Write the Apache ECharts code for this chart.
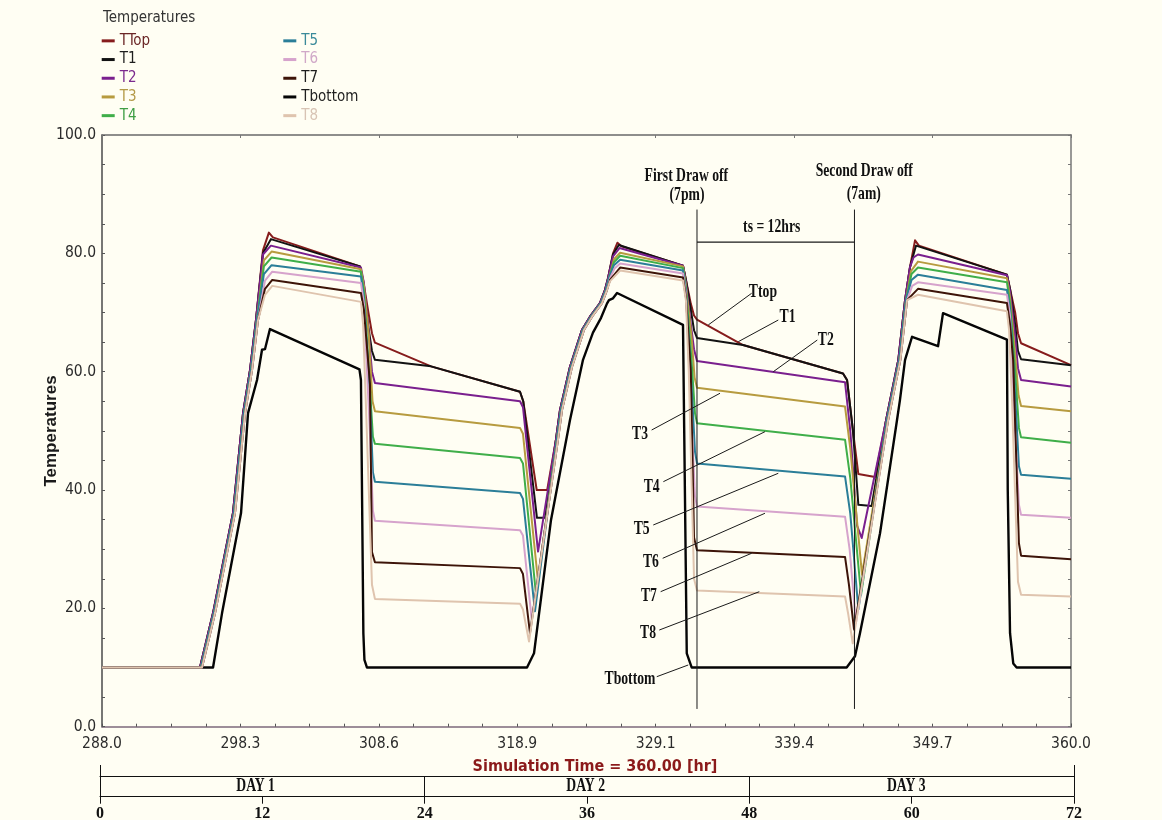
<!DOCTYPE html>
<html>
<head>
<meta charset="utf-8">
<title>Temperatures</title>
<script src="https://cdn.jsdelivr.net/npm/echarts@6.0.0/dist/echarts.min.js"></script>
<style>
  html, body { margin: 0; padding: 0; background: #fffef3; }
  #chart { width: 1162px; height: 820px; }
</style>
</head>
<body>
<div id="chart"></div>
<script>
// ---- time scale (hours) ----
const timeMin = 288;
const timeMax = 360;
const timeStep = 72 / 7;
const tempMin = 0;
const tempMax = 100;
const tempStep = 20;

// ---- day scale ----
const dayMin = 0;
const dayMax = 72;
const dayStep = 12;
const dayLabels = ['DAY 1', 'DAY 2', 'DAY 3'];
const dayLabelHours = [11.5, 35.9, 59.6];

// ---- tank node temperatures [hour, degC] ----
const tTop = [
  [288,10],[295.28,10],[296.25,19.2],[297.73,36.1],[298.48,53.0],[299.00,60.3],[299.44,68.7],[299.96,80.5],[300.40,83.5],[300.70,82.7],[307.17,77.8],
  [307.40,75.5],[307.76,70.5],[308.06,66.5],[308.28,64.9],[312.45,60.9],[319.06,56.6],
  [319.30,55.0],[320.30,40.0],[321.08,40.0],
  [321.73,48.5],[322.03,53.5],[322.77,60.8],[323.67,67.1],[324.26,69.3],[325.00,71.6],[325.37,73.8],[325.60,75.8],[325.97,80.0],[326.30,81.8],[326.60,81.2],[331.17,77.9],
  [331.39,75.5],[331.75,71.5],[331.99,69.5],[332.21,68.8],[335.63,64.5],[343.06,59.7],
  [343.36,58.6],[343.80,50.0],[344.20,42.7],[345.44,42.2],
  [346.26,51.8],[347.17,62.0],[347.67,72.1],[348.04,77.7],[348.41,82.2],[348.70,81.3],[355.24,76.4],
  [355.47,74.0],[355.85,70.0],[356.06,66.5],[356.29,64.8],[360,61.1]
];
const t1 = [
  [288,10],[295.28,10],[296.25,19.2],[297.73,36.1],[298.48,53.0],[299.00,60.3],[299.44,68.7],[299.96,80.0],[300.55,82.4],[307.17,77.8],
  [307.40,75.0],[307.76,68.0],[308.06,63.5],[308.28,62.0],[312.45,60.9],[319.06,56.6],
  [319.30,55.0],[320.32,35.3],[320.92,35.3],
  [321.73,48.5],[322.03,53.5],[322.77,60.8],[323.67,67.1],[324.26,69.3],[325.00,71.6],[325.37,73.8],[325.60,75.8],[325.97,79.8],[326.40,81.4],[331.17,77.9],
  [331.39,75.5],[331.75,70.5],[331.99,67.0],[332.21,65.7],[335.63,64.5],[343.06,59.7],
  [343.36,58.6],[343.80,50.0],[344.20,37.5],[345.19,37.3],
  [346.26,51.8],[347.17,62.0],[347.67,72.1],[348.04,77.7],[348.48,81.3],[355.24,76.4],
  [355.47,74.0],[355.85,68.0],[356.06,63.5],[356.29,62.1],[360,61.1]
];
const t2 = [
  [288,10],[295.28,10],[296.25,19.2],[297.73,36.1],[298.48,53.0],[299.00,60.3],[299.44,68.7],[299.96,79.8],[300.55,81.3],[307.24,77.6],
  [307.46,75.0],[307.76,68.0],[308.06,60.0],[308.28,58.1],[319.06,55.0],
  [319.28,54.0],[320.40,29.6],
  [321.73,48.5],[322.03,53.5],[322.77,60.8],[323.67,67.1],[324.26,69.3],[325.00,71.6],[325.37,73.8],[325.60,75.8],[325.97,79.5],[326.45,80.9],[331.17,77.9],
  [331.39,75.0],[331.75,68.0],[331.99,63.8],[332.21,61.8],[343.21,58.2],
  [343.60,50.0],[344.10,34.0],[344.45,31.9],
  [346.26,51.8],[347.17,62.0],[347.67,72.1],[348.04,77.7],[348.30,79.3],[348.63,79.8],[355.24,76.3],
  [355.47,73.5],[355.85,66.0],[356.06,60.6],[356.29,58.6],[360,57.5]
];
const t3 = [
  [288,10],[295.35,10],[296.32,19.2],[297.80,36.1],[298.55,53.0],[299.07,60.3],[299.51,68.7],[300.03,78.8],[300.60,80.3],[307.24,77.3],
  [307.46,74.5],[307.83,66.0],[308.10,55.0],[308.28,53.3],[319.06,50.5],
  [319.28,49.5],[320.40,24.5],
  [321.80,48.5],[322.10,53.5],[322.84,60.8],[323.74,67.1],[324.33,69.3],[325.07,71.6],[325.44,73.8],[325.67,75.8],[326.04,79.0],[326.50,80.1],[331.17,77.8],
  [331.39,74.5],[331.80,66.0],[332.03,59.0],[332.21,57.3],[343.21,54.1],
  [343.60,47.0],[344.47,25.7],
  [346.33,51.8],[347.24,62.0],[347.74,72.1],[348.11,77.0],[348.63,78.6],[355.24,75.8],
  [355.47,72.5],[355.85,63.0],[356.10,56.0],[356.29,54.2],[360,53.3]
];
const t4 = [
  [288,10],[295.35,10],[296.32,19.2],[297.80,36.1],[298.55,53.0],[299.07,60.3],[299.51,68.7],[300.03,77.8],[300.60,79.3],[307.24,76.9],
  [307.46,73.5],[307.83,60.0],[308.13,49.0],[308.28,47.8],[319.06,45.4],
  [319.28,44.5],[320.25,22.3],
  [321.80,48.5],[322.10,53.5],[322.84,60.8],[323.74,67.1],[324.33,69.3],[325.07,71.6],[325.44,73.8],[325.67,75.8],[326.04,78.5],[326.50,79.6],[331.17,77.5],
  [331.39,74.0],[331.80,62.0],[332.06,53.0],[332.21,51.3],[343.21,48.5],
  [343.60,42.0],[344.40,22.3],
  [346.33,51.8],[347.24,62.0],[347.74,72.1],[348.15,76.5],[348.63,77.6],[355.24,75.1],
  [355.47,71.5],[355.85,60.0],[356.13,50.5],[356.29,48.9],[360,48.0]
];
const t5 = [
  [288,10],[295.35,10],[296.32,19.2],[297.80,36.1],[298.55,53.0],[299.07,60.3],[299.51,68.7],[300.03,76.5],[300.60,78.0],[307.24,76.1],
  [307.46,72.5],[307.90,56.0],[308.13,43.0],[308.28,41.4],[319.06,39.5],
  [319.28,38.5],[320.17,19.5],
  [321.80,48.5],[322.10,53.5],[322.84,60.8],[323.74,67.1],[324.33,69.3],[325.07,71.6],[325.44,73.8],[325.67,75.8],[326.04,78.0],[326.50,78.9],[331.17,77.1],
  [331.39,73.5],[331.80,58.0],[332.06,46.5],[332.21,44.5],[343.21,42.3],
  [343.60,36.0],[344.20,19.8],
  [346.33,51.8],[347.24,62.0],[347.74,72.1],[348.15,75.5],[348.63,76.4],[355.24,73.8],
  [355.47,70.5],[355.85,56.0],[356.13,44.0],[356.29,42.6],[360,41.9]
];
const t6 = [
  [288,10],[295.43,10],[296.40,19.2],[297.88,36.1],[298.63,53.0],[299.15,60.3],[299.59,68.7],[300.11,75.4],[300.65,76.9],[307.24,75.0],
  [307.46,71.5],[307.90,50.0],[308.13,36.5],[308.28,34.8],[319.06,33.2],
  [319.28,32.3],[319.93,18.1],
  [321.88,48.5],[322.18,53.5],[322.92,60.8],[323.82,67.1],[324.41,69.3],[325.15,71.6],[325.52,73.8],[325.75,75.8],[326.10,77.5],[326.50,78.3],[331.17,76.6],
  [331.39,73.0],[331.80,52.0],[332.06,39.0],[332.21,37.2],[343.21,35.5],
  [343.55,30.0],[344.02,17.5],
  [346.41,51.8],[347.32,62.0],[347.82,72.1],[348.20,74.5],[348.63,75.1],[355.24,73.0],
  [355.47,69.5],[355.85,50.0],[356.13,37.5],[356.29,35.8],[360,35.3]
];
const t7 = [
  [288,10],[295.43,10],[296.40,19.2],[297.88,36.1],[298.63,53.0],[299.15,60.3],[299.59,68.7],[300.11,74.0],[300.65,75.5],[307.24,73.3],
  [307.46,70.5],[307.91,58.0],[308.06,29.5],[308.28,27.8],[319.06,26.8],
  [319.28,25.8],[319.80,15.8],
  [321.88,48.5],[322.18,53.5],[322.92,60.8],[323.82,67.1],[324.41,69.3],[325.15,71.6],[325.52,73.8],[325.75,75.5],[326.50,77.6],[331.17,75.9],
  [331.39,72.5],[331.75,60.0],[331.99,32.0],[332.21,29.8],[343.21,28.7],
  [343.50,24.0],[343.88,16.4],
  [346.41,51.8],[347.32,62.0],[347.82,72.1],[348.63,74.0],[355.24,71.6],
  [355.47,68.0],[355.70,62.0],[356.13,31.0],[356.29,28.9],[360,28.3]
];
const t8 = [
  [288,10],[295.43,10],[296.40,19.2],[297.88,36.1],[298.63,53.0],[299.15,60.3],[299.59,68.7],[300.11,73.0],[300.65,74.5],[307.24,71.8],
  [307.40,68.0],[307.60,55.0],[308.06,24.0],[308.28,21.6],[319.06,20.8],
  [319.28,19.8],[319.73,14.4],
  [321.88,48.5],[322.18,53.5],[322.92,60.8],[323.82,67.1],[324.41,69.3],[325.15,71.6],[325.52,73.8],[325.75,75.3],[326.50,77.1],[331.17,75.4],
  [331.39,72.0],[331.60,60.0],[331.99,25.0],[332.21,23.0],[343.21,22.0],
  [343.45,19.0],[343.78,14.1],
  [346.41,51.8],[347.32,62.0],[347.82,72.1],[348.63,73.0],[355.24,70.2],
  [355.40,67.0],[355.62,55.0],[356.06,24.5],[356.29,22.3],[360,22.0]
];
const tBottom = [
  [288,10],[296.25,10],[296.92,19.2],[298.33,36.1],[298.85,53.0],[299.52,58.6],[299.89,63.7],[300.11,63.8],[300.48,67.2],[307.13,60.4],[307.24,58.6],[307.42,15.8],[307.50,11.3],[307.69,10],
  [319.58,10],[320.10,12.4],[321.36,34.9],[322.77,51.8],[323.74,62.0],[324.48,66.6],[325.08,69.1],[325.52,71.5],[325.67,72.1],[325.97,72.4],[326.27,73.3],[331.17,67.9],[331.26,50.0],[331.45,12.4],[331.82,10],
  [343.33,10],[343.95,11.9],[344.32,15.8],[345.81,32.7],[347.07,51.8],[347.29,55.2],[347.67,62.0],[348.19,65.9],[350.12,64.3],[350.49,69.9],[355.24,65.4],[355.30,40.0],[355.47,15.8],[355.71,10.7],[355.96,10],[360,10]
];

// ---- draw-off events (hours) ----
const drawOffHours = [332.21, 343.91];

// ---- fonts & colours ----
const NARROW = '"Liberation Sans Narrow", "Arial Narrow", "DejaVu Sans Condensed", sans-serif';
const SANS = '"Liberation Sans", Arial, sans-serif';
const SERIF = '"Liberation Serif", "Times New Roman", serif';

const seriesDefs = [
  { name: 'Tbottom', data: tBottom, color: '#050505', text: '#1e1e1e', width: 2.4 },
  { name: 'TTop',    data: tTop,    color: '#861c1c', text: '#6b2626', width: 2 },
  { name: 'T1',      data: t1,      color: '#121212', text: '#1e1e1e', width: 2 },
  { name: 'T2',      data: t2,      color: '#7a1f8e', text: '#7b2a8e', width: 2 },
  { name: 'T3',      data: t3,      color: '#b79b3f', text: '#b49a48', width: 2 },
  { name: 'T4',      data: t4,      color: '#3fae49', text: '#3f9e45', width: 2 },
  { name: 'T5',      data: t5,      color: '#2b7e98', text: '#3a8a9a', width: 2 },
  { name: 'T6',      data: t6,      color: '#d6a3cc', text: '#d0a8c8', width: 2 },
  { name: 'T7',      data: t7,      color: '#3d1408', text: '#1e1e1e', width: 2 },
  { name: 'T8',      data: t8,      color: '#dfc4ae', text: '#d8c4b4', width: 2 }
];
const colorOf = Object.fromEntries(seriesDefs.map(d => [d.name, d]));

const legendCol1 = ['TTop', 'T1', 'T2', 'T3', 'T4'];
const legendCol2 = ['T5', 'T6', 'T7', 'Tbottom', 'T8'];

function legendBlock(names, left) {
  return {
    orient: 'vertical', left: left, top: 31.5, padding: 0,
    icon: 'rect', itemWidth: 13, itemHeight: 3, itemGap: 0,
    selectedMode: false,
    textStyle: { fontFamily: NARROW, fontSize: 15, lineHeight: 18.7, padding: [0, 0, 0, 0] },
    data: names.map(n => ({ name: n, textStyle: { color: colorOf[n].text } }))
  };
}

const chart = echarts.init(document.getElementById('chart'), null, { renderer: 'canvas' });

const option = {
  backgroundColor: '#fffef3',
  animation: false,
  title: {
    text: 'Temperatures', left: 103, top: 10.5, padding: 0,
    textStyle: { fontFamily: NARROW, fontSize: 15, fontWeight: 'normal', color: '#333' }
  },
  legend: [legendBlock(legendCol1, 101.7), legendBlock(legendCol2, 283.3)],
  grid: [
    { left: 102, top: 135, width: 969, height: 591.7, outerBoundsMode: 'none' },
    { left: 100, top: 776, width: 974, height: 20.7, outerBoundsMode: 'none' }
  ],
  xAxis: [
    { // simulation time
      type: 'value', gridIndex: 0, position: 'bottom',
      min: timeMin, max: timeMax, interval: timeStep,
      axisLine: { show: true, onZero: false, lineStyle: { color: '#7d6a7c', width: 1.5 } },
      axisTick: { show: true, inside: true, length: 3, lineStyle: { color: '#555' } },
      minorTick: { show: true, splitNumber: 4, length: 3, lineStyle: { color: '#555' } },
      axisLabel: { formatter: v => v.toFixed(1), fontFamily: NARROW, fontSize: 15.5, color: '#2b2b2b', margin: 9 },
      splitLine: { show: false }
    },
    { // frame top
      type: 'value', gridIndex: 0, position: 'top',
      min: timeMin, max: timeMax, interval: timeStep,
      axisLine: { show: true, onZero: false, lineStyle: { color: '#6a6a6a', width: 1.5 } },
      axisTick: { show: true, inside: true, length: 3, lineStyle: { color: '#777' } },
      axisLabel: { show: false }, splitLine: { show: false }
    },
    { // day scale: hour labels
      type: 'value', gridIndex: 1, position: 'bottom',
      min: dayMin, max: dayMax, interval: dayStep,
      axisLine: { show: true, onZero: false, lineStyle: { color: '#111', width: 1 } },
      axisTick: { show: true, length: 7, lineStyle: { color: '#111' } },
      axisLabel: { fontFamily: SERIF, fontWeight: 'bold', fontSize: 16, color: '#111', margin: 9 },
      splitLine: { show: false }
    },
    { // day scale: upper rail with end marks
      type: 'value', gridIndex: 1, position: 'top',
      min: dayMin, max: dayMax, interval: dayMax,
      axisLine: { show: true, onZero: false, lineStyle: { color: '#111', width: 1 } },
      axisTick: { show: true, length: 11, lineStyle: { color: '#111' } },
      axisLabel: { show: false }, splitLine: { show: false }
    },
    { // day scale: day boundaries
      type: 'value', gridIndex: 1, position: 'bottom',
      min: dayMin, max: dayMax, interval: 24,
      axisLine: { show: false, onZero: false }, axisTick: { show: false }, axisLabel: { show: false },
      splitLine: { show: true, lineStyle: { color: '#111', width: 1 } }
    }
  ],
  yAxis: [
    {
      type: 'value', gridIndex: 0, position: 'left',
      min: tempMin, max: tempMax, interval: tempStep,
      axisLine: { show: true, onZero: false, lineStyle: { color: '#4a4a4a', width: 1.5 } },
      axisTick: { show: true, inside: true, length: 3, lineStyle: { color: '#555' } },
      minorTick: { show: true, splitNumber: 4, length: 3, lineStyle: { color: '#555' } },
      axisLabel: { formatter: v => v.toFixed(1), fontFamily: NARROW, fontSize: 15.5, color: '#2b2b2b', margin: 6 },
      splitLine: { show: false }
    },
    {
      type: 'value', gridIndex: 0, position: 'right',
      min: tempMin, max: tempMax, interval: tempStep,
      axisLine: { show: true, onZero: false, lineStyle: { color: '#777', width: 1.5 } },
      axisTick: { show: true, inside: true, length: 3, lineStyle: { color: '#777' } },
      minorTick: { show: true, splitNumber: 4, length: 3, lineStyle: { color: '#777' } },
      axisLabel: { show: false }, splitLine: { show: false }
    },
    { type: 'value', gridIndex: 1, min: 0, max: 1, show: false }
  ],
  series: seriesDefs.map(d => ({
    name: d.name, type: 'line', xAxisIndex: 0, yAxisIndex: 0,
    data: d.data, showSymbol: false, symbol: 'none', silent: true,
    color: d.color,
    lineStyle: { color: d.color, width: d.width, join: 'round' },
    emphasis: { disabled: true }
  }))
};

chart.setOption(option);

// ---- annotations (positions in hours / degC) ----
const eventNotes = [
  { text: 'First Draw off',  at: [331.42, 93.1] },
  { text: '(7pm)',           at: [331.47, 89.9] },
  { text: 'Second Draw off', at: [344.64, 93.95] },
  { text: '(7am)',           at: [344.60, 90.0] },
  { text: 'ts = 12hrs',      at: [337.76, 84.4] }
];
const callouts = [
  { text: 'Ttop',    at: [337.11, 73.5],  from: [336.27, 73.25], to: [333.05, 67.9] },
  { text: 'T1',      at: [338.94, 69.3],  from: [338.25, 68.73], to: [335.28, 65.07] },
  { text: 'T2',      at: [341.78, 65.35], from: [341.15, 65.35], to: [337.88, 60.0] },
  { text: 'T3',      at: [327.98, 49.47], from: [328.84, 50.14], to: [333.92, 56.35] },
  { text: 'T4',      at: [328.84, 40.43], from: [329.71, 41.41], to: [337.26, 49.86] },
  { text: 'T5',      at: [328.10, 33.41], from: [328.96, 34.09], to: [338.25, 42.83] },
  { text: 'T6',      at: [328.79, 27.75], from: [329.66, 28.46], to: [337.26, 36.07] },
  { text: 'T7',      at: [328.64, 22.12], from: [329.51, 22.82], to: [336.27, 29.31] },
  { text: 'T8',      at: [328.57, 15.78], from: [329.41, 16.34], to: [336.84, 22.82] },
  { text: 'Tbottom', at: [327.23, 8.06],  from: [329.22, 8.45],  to: [331.56, 10.43] }
];

const px = p => chart.convertToPixel({ xAxisIndex: 0, yAxisIndex: 0 }, p);
const dayPx = p => chart.convertToPixel({ xAxisIndex: 2, yAxisIndex: 2 }, p);

function serifText(p, text, size, sx) {
  return {
    type: 'text', x: p[0], y: p[1], scaleX: sx, z: 120, silent: true,
    style: {
      text: text, fill: '#111',
      font: 'bold ' + size + 'px ' + SERIF,
      textAlign: 'center', textVerticalAlign: 'middle',
      align: 'center', verticalAlign: 'middle'
    }
  };
}
function segment(a, b, w) {
  return {
    type: 'line', z: 110, silent: true,
    shape: { x1: a[0], y1: a[1], x2: b[0], y2: b[1] },
    style: { stroke: '#1a1a1a', lineWidth: w }
  };
}

const graphics = [];
drawOffHours.forEach(h => graphics.push(segment(px([h, 87.4]), px([h, 3.0]), 1)));
graphics.push(segment(px([drawOffHours[0], 81.9]), px([drawOffHours[1], 81.9]), 1.3));
eventNotes.forEach(n => graphics.push(serifText(px(n.at), n.text, 19, 0.72)));
callouts.forEach(c => {
  graphics.push(segment(px(c.from), px(c.to), 1));
  graphics.push(serifText(px(c.at), c.text, 19, 0.72));
});
dayLabels.forEach((t, i) => graphics.push(serifText(dayPx([dayLabelHours[i], 0.5]), t, 19, 0.72)));

// axis titles
graphics.push({
  type: 'text', x: 595, y: 767, z: 120, silent: true,
  style: {
    text: 'Simulation Time = 360.00 [hr]', fill: '#8b1a1a',
    font: 'bold 16px ' + NARROW,
    textAlign: 'center', textVerticalAlign: 'middle', align: 'center', verticalAlign: 'middle'
  }
});
graphics.push({
  type: 'text', x: 51, y: 431, rotation: Math.PI / 2, z: 120, silent: true,
  style: {
    text: 'Temperatures', fill: '#1a1a1a',
    font: 'bold 17px ' + SANS,
    textAlign: 'center', textVerticalAlign: 'middle', align: 'center', verticalAlign: 'middle'
  }
});

chart.setOption({ graphic: graphics });
</script>
</body>
</html>
